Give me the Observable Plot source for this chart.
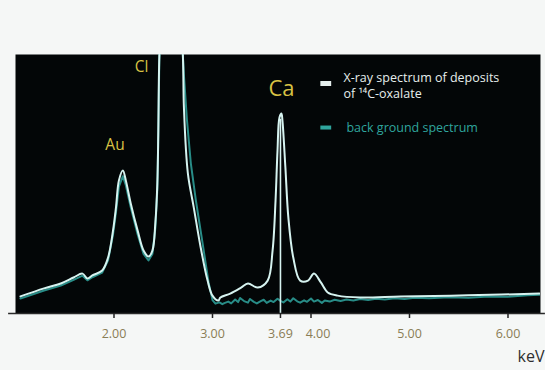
<!DOCTYPE html>
<html>
<head>
<meta charset="utf-8">
<script src="https://cdn.jsdelivr.net/npm/d3@7"></script>
<script src="https://cdn.jsdelivr.net/npm/@observablehq/plot@0.6"></script>
<style>
  html, body { margin: 0; padding: 0; background: #f5f7f6; }
  #chart svg {
    display: block;
    background:
      linear-gradient(to right, #f5f7f6 0 6px, transparent 6px),
      linear-gradient(to bottom, #f5f7f6 0 12px, #e1e6e3 12px);
  }
</style>
</head>
<body>
<div id="chart"></div>
<script>
// Energy (keV) and counts (arbitrary units, 0-100 = panel height) of the spectrum
const sampleKeV = [1.05, 1.29, 1.46, 1.59, 1.68, 1.73, 1.78, 1.88, 1.94, 1.99, 2.02, 2.05, 2.09, 2.12, 2.17, 2.24, 2.30, 2.35, 2.39, 2.42, 2.44, 2.45, 2.46, 2.48, 2.57, 2.67, 2.70, 2.71, 2.75, 2.81, 2.88, 2.95, 3.00, 3.06, 3.08, 3.18, 3.29, 3.36, 3.46, 3.56, 3.61, 3.64, 3.66, 3.68, 3.70, 3.71, 3.74, 3.77, 3.82, 3.89, 3.97, 4.03, 4.10, 4.17, 4.27, 4.50, 4.91, 5.42, 5.93, 6.32];
const sampleCounts = [6.6, 9.7, 11.6, 13.9, 15.4, 13.5, 14.7, 16.6, 21.6, 32.0, 40.9, 51.4, 55.2, 51.4, 42.5, 32.0, 24.3, 22.0, 24.3, 35.1, 50.2, 70.7, 98.8, 115, 140, 120, 98.8, 79.5, 54.1, 40.9, 25.5, 12.7, 6.9, 5.0, 6.2, 7.7, 10.0, 11.6, 10.0, 12.7, 24.3, 43.6, 62.9, 75.7, 77.2, 74.5, 56.4, 37.1, 21.6, 12.7, 12.7, 15.4, 12.0, 8.1, 6.9, 6.2, 6.6, 6.9, 7.3, 7.7];

const backgroundKeV = [1.05, 1.29, 1.46, 1.59, 1.68, 1.73, 1.78, 1.88, 1.94, 1.99, 2.02, 2.05, 2.09, 2.12, 2.17, 2.24, 2.30, 2.35, 2.39, 2.42, 2.44, 2.45, 2.46, 2.48, 2.57, 2.67, 2.71, 2.74, 2.78, 2.83, 2.90, 2.96, 3.00, 3.03, 3.07, 3.10, 3.12, 3.16, 3.19, 3.23, 3.26, 3.28, 3.32, 3.36, 3.38, 3.42, 3.45, 3.49, 3.52, 3.55, 3.59, 3.62, 3.66, 3.69, 3.72, 3.76, 3.79, 3.82, 3.86, 3.89, 3.93, 3.96, 4.00, 4.03, 4.07, 4.11, 4.14, 4.19, 4.24, 4.30, 4.36, 4.43, 4.50, 4.58, 4.66, 4.75, 4.85, 4.95, 5.05, 5.20, 5.40, 5.60, 5.80, 6.00, 6.20, 6.32];
const backgroundCounts = [5.8, 8.9, 10.8, 13.0, 14.6, 12.8, 14.0, 15.8, 20.5, 30.5, 39.0, 49.0, 53.0, 49.5, 41.0, 30.5, 23.0, 20.5, 23.0, 33.0, 48.0, 69.0, 98.0, 115, 140, 120, 92, 75, 58, 44, 27, 12, 5.2, 3.8, 4.3, 3.6, 4.0, 4.6, 3.9, 5.4, 4.4, 6.0, 4.8, 4.2, 5.6, 4.5, 3.9, 4.8, 5.3, 4.1, 5.0, 4.4, 5.7, 4.9, 4.3, 5.5, 4.6, 5.9, 4.7, 4.2, 5.1, 4.5, 5.8, 4.6, 5.2, 4.1, 5.0, 4.6, 5.3, 4.8, 5.4, 5.0, 5.6, 5.2, 5.7, 5.4, 5.9, 5.6, 6.1, 5.9, 6.3, 6.1, 6.6, 6.5, 7.0, 7.2];

const tickValues = [2.00, 3.00, 3.69, 4.00, 5.00, 6.00];
const elementNames = ["Au", "Cl", "Ca"];
const elementKeV = [2.01, 2.28, 3.70];
const elementCounts = [64.9, 95, 86.8];
const elementSizes = [15.5, 15.5, 22];
const caLineKeV = 3.69;
const caLineTop = 75;
const legendLabels = ["X-ray spectrum of deposits", "of ¹⁴C-oxalate", "back ground spectrum"];
const axisLabel = "keV";

const spectrum = sampleKeV.map((k, i) => ({keV: k, counts: sampleCounts[i]}));
const background = backgroundKeV.map((k, i) => ({keV: k, counts: backgroundCounts[i]}));
const elements = elementNames.map((n, i) => ({name: n, keV: elementKeV[i], counts: elementCounts[i], size: elementSizes[i]}));

const white = "#d6f3f0";
const teal = "#2fa59d";
const yellow = "#d8c244";
const font = "Open Sans";
const tickLabelStyle = {y: 0, dy: 20, text: d => d.toFixed(2), fill: "#8a7d55", fontSize: 12.5, fontFamily: font};

const plot = Plot.plot({
  width: 545,
  height: 370,
  marginLeft: 15,
  marginRight: 5,
  marginTop: 54,
  marginBottom: 57,
  style: {background: "transparent", overflow: "visible"},
  x: {type: "linear", domain: [1.0, 6.33], axis: null},
  y: {type: "linear", domain: [0, 100], axis: null},
  marks: [
    Plot.frame({fill: "#030607", stroke: null}),
    Plot.line(background, {x: "keV", y: "counts", stroke: teal, strokeWidth: 2, strokeOpacity: 0.85, clip: true}),
    Plot.line(spectrum, {x: "keV", y: "counts", stroke: white, strokeWidth: 2, curve: "catmull-rom", clip: true}),
    Plot.ruleX([caLineKeV], {y1: 0, y2: caLineTop, stroke: white, strokeWidth: 1.6}),
    ...elements.map(e => Plot.text([e], {x: "keV", y: "counts", text: "name", fill: yellow, fontSize: e.size, fontFamily: font})),
    // legend
    Plot.ruleY([88.8], {x1: 4.10, x2: 4.21, stroke: "#e4eeec", strokeWidth: 5}),
    Plot.ruleY([71.8], {x1: 4.10, x2: 4.21, stroke: teal, strokeWidth: 4}),
    Plot.text([legendLabels[0]], {x: 4.33, y: 90.9, text: d => d, textAnchor: "start", fill: "#e6eeec", fontSize: 12.5, fontFamily: font}),
    Plot.text([legendLabels[1]], {x: 4.33, y: 84.9, text: d => d, textAnchor: "start", fill: "#e6eeec", fontSize: 12.5, fontFamily: font}),
    Plot.text([legendLabels[2]], {x: 4.36, y: 71.8, text: d => d, textAnchor: "start", fill: teal, fontSize: 12.5, fontFamily: font}),
    // axis
    Plot.ruleY([0], {x1: 0.93, x2: 6.38, stroke: "#2a2a2a", strokeWidth: 1.5}),
    Plot.axisX({ticks: tickValues, tickFormat: () => "", tickSize: 5, stroke: "#222", strokeWidth: 1.5, label: null}),
    Plot.text(tickValues.filter(v => v !== 4), {x: d => d, ...tickLabelStyle}),
    Plot.text(tickValues.filter(v => v === 4), {x: d => d, dx: 7, ...tickLabelStyle}),
    Plot.text([axisLabel], {x: 6.33, y: 0, dy: 43, dx: 4, text: d => d, textAnchor: "end", fill: "#2e2e2e", fontSize: 16, fontFamily: font})
  ]
});
document.getElementById("chart").appendChild(plot);
</script>
</body>
</html>
